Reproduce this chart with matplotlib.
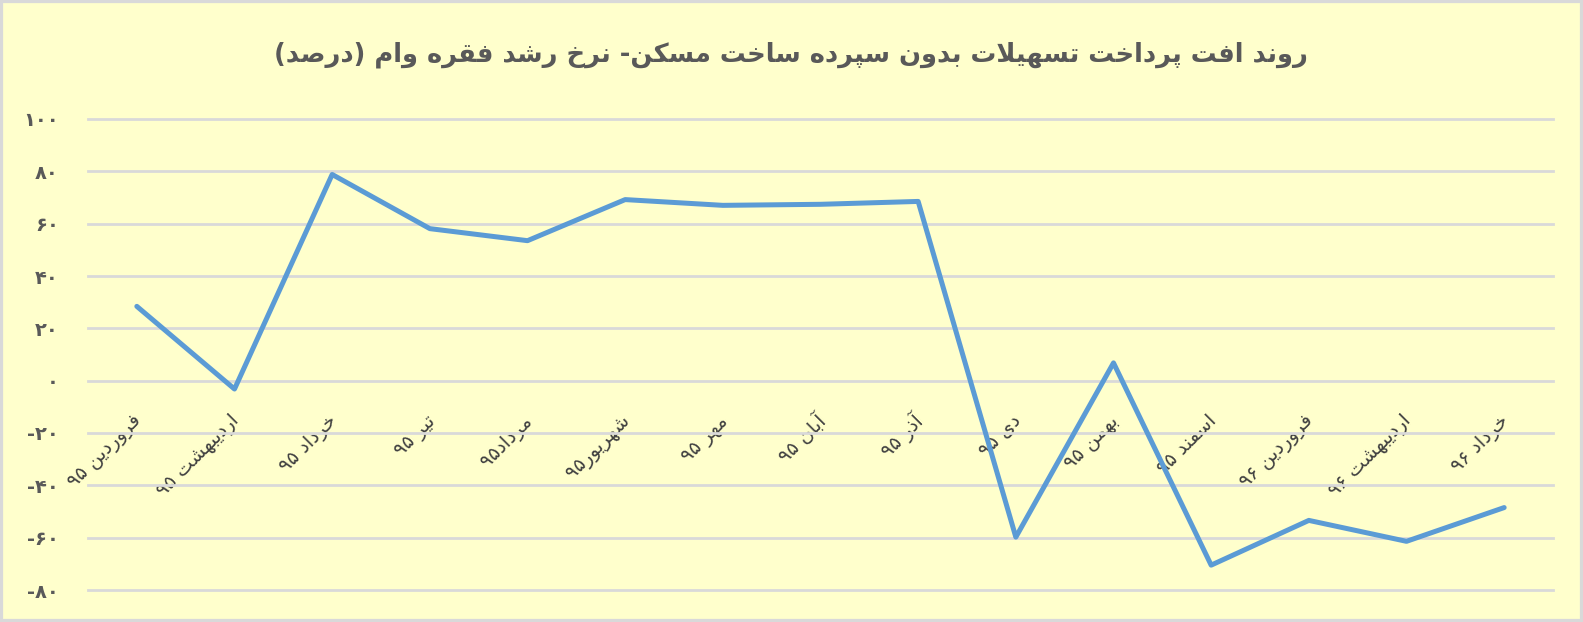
import re
import matplotlib
matplotlib.use("Agg")
import matplotlib.pyplot as plt
from matplotlib.patches import Rectangle
from matplotlib.transforms import ScaledTranslation

# ---------------- data ----------------
title_text = "روند افت پرداخت تسهیلات بدون سپرده ساخت مسکن- نرخ رشد فقره وام (درصد)"
categories = ["فروردین ۹۵", "اردیبهشت ۹۵", "خرداد ۹۵", "تیر ۹۵", "مرداد۹۵",
              "شهریور۹۵", "مهر ۹۵", "آبان ۹۵", "آذر ۹۵", "دی ۹۵", "بهمن ۹۵",
              "اسفند ۹۵", "فروردین ۹۶", "اردیبهشت ۹۶", "خرداد ۹۶"]
growth = [28.4, -3.2, 78.8, 58.1, 53.5, 69.2, 67.0, 67.4, 68.5,
          -59.8, 6.8, -70.5, -53.4, -61.4, -48.5]
y_ticks = [-80, -60, -40, -20, 0, 20, 40, 60, 80, 100]
y_tick_labels = ["-۸۰", "-۶۰", "-۴۰", "-۲۰", "۰", "۲۰", "۴۰", "۶۰", "۸۰", "۱۰۰"]

# ---------------- minimal Persian shaping ----------------
FORMS = {
    '\u0627': ('\uFE8D', '\uFE8E', None, None),
    '\u0622': ('\uFE81', '\uFE82', None, None),
    '\u0628': ('\uFE8F', '\uFE90', '\uFE91', '\uFE92'),
    '\u067E': ('\uFB56', '\uFB57', '\uFB58', '\uFB59'),
    '\u062A': ('\uFE95', '\uFE96', '\uFE97', '\uFE98'),
    '\u062E': ('\uFEA5', '\uFEA6', '\uFEA7', '\uFEA8'),
    '\u062F': ('\uFEA9', '\uFEAA', None, None),
    '\u0630': ('\uFEAB', '\uFEAC', None, None),
    '\u0631': ('\uFEAD', '\uFEAE', None, None),
    '\u0632': ('\uFEAF', '\uFEB0', None, None),
    '\u0633': ('\uFEB1', '\uFEB2', '\uFEB3', '\uFEB4'),
    '\u0634': ('\uFEB5', '\uFEB6', '\uFEB7', '\uFEB8'),
    '\u0635': ('\uFEB9', '\uFEBA', '\uFEBB', '\uFEBC'),
    '\u0641': ('\uFED1', '\uFED2', '\uFED3', '\uFED4'),
    '\u0642': ('\uFED5', '\uFED6', '\uFED7', '\uFED8'),
    '\u06A9': ('\uFB8E', '\uFB8F', '\uFB90', '\uFB91'),
    '\u0644': ('\uFEDD', '\uFEDE', '\uFEDF', '\uFEE0'),
    '\u0645': ('\uFEE1', '\uFEE2', '\uFEE3', '\uFEE4'),
    '\u0646': ('\uFEE5', '\uFEE6', '\uFEE7', '\uFEE8'),
    '\u0647': ('\uFEE9', '\uFEEA', '\uFEEB', '\uFEEC'),
    '\u0648': ('\uFEED', '\uFEEE', None, None),
    '\u06CC': ('\uFBFC', '\uFBFD', '\uFBFE', '\uFBFF'),
}
LAM_ALEF = {'\u0627': ('\uFEFB', '\uFEFC'), '\u0622': ('\uFEF5', '\uFEF6')}


def _joins_forward(c):
    return c in FORMS and FORMS[c][2] is not None


def shape(s):
    out = []
    i, n = 0, len(s)
    while i < n:
        c = s[i]
        if c not in FORMS:
            out.append(c)
            i += 1
            continue
        pj = i > 0 and _joins_forward(s[i - 1])
        if c == '\u0644' and i + 1 < n and s[i + 1] in LAM_ALEF:
            lig = LAM_ALEF[s[i + 1]]
            out.append(lig[1] if pj else lig[0])
            i += 2
            continue
        nj = i + 1 < n and s[i + 1] in FORMS
        iso, fin, ini, med = FORMS[c]
        if ini is None:
            f = fin if pj else iso
        elif pj and nj:
            f = med
        elif pj:
            f = fin
        elif nj:
            f = ini
        else:
            f = iso
        out.append(f)
        i += 1
    return ''.join(out)


MIRROR = {'(': ')', ')': '('}


def rtl(s):
    shaped = shape(s)
    runs = re.findall(r'[0-9\u06F0-\u06F9]+|[^0-9\u06F0-\u06F9]+', shaped)
    vis = []
    for r in reversed(runs):
        if re.fullmatch(r'[0-9\u06F0-\u06F9]+', r):
            vis.append(r)
        else:
            vis.append(''.join(MIRROR.get(ch, ch) for ch in reversed(r)))
    return ''.join(vis)


# ---------------- figure ----------------
BG = '#FFFFCC'
TXT = '#595959'
plt.rcParams['font.family'] = ['DejaVu Sans']

fig = plt.figure(figsize=(15.83, 6.22), dpi=100, facecolor=BG)
ax = fig.add_axes([88 / 1583, 32 / 622, 1465 / 1583, 471 / 622])
ax.set_facecolor(BG)

x = list(range(len(categories)))
ax.plot(x, growth, color='#5B9BD5', linewidth=3.6, solid_joinstyle='round',
        solid_capstyle='round', zorder=3)

ax.set_xlim(-0.5, len(categories) - 0.5)
ax.set_ylim(-80, 100)
ax.set_yticks(y_ticks)
ax.set_yticklabels(y_tick_labels, fontsize=14, fontweight='bold', color=TXT)
ax.yaxis.grid(True, color='#D9D9D9', linewidth=2.0)
for gl in ax.get_ygridlines():
    gl.set_clip_on(False)
ax.set_axisbelow(True)
ax.tick_params(axis='y', length=0, pad=21)

for side in ['left', 'right', 'top']:
    ax.spines[side].set_visible(False)
ax.spines['bottom'].set_position(('data', 0))
ax.spines['bottom'].set_visible(False)

ax.set_xticks(x)
ax.set_xticklabels([rtl(c) for c in categories], rotation=45, ha='right',
                   va='center', rotation_mode='anchor', fontsize=14, color='#404040')
ax.tick_params(axis='x', length=0, pad=27)
shift = ScaledTranslation(2 / 100, 0, fig.dpi_scale_trans)
for lbl in ax.get_xticklabels():
    lbl.set_transform(lbl.get_transform() + shift)

fig.text(0.4995, 1 - 55 / 622, rtl(title_text), ha='center', va='center',
         fontsize=18.5, fontweight='bold', color=TXT)

fig.patches.append(Rectangle((0, 0), 1, 1, transform=fig.transFigure, fill=False,
                             edgecolor='#D9D9D9', linewidth=4.5))

fig.savefig('out.png', dpi=100, facecolor=BG)
